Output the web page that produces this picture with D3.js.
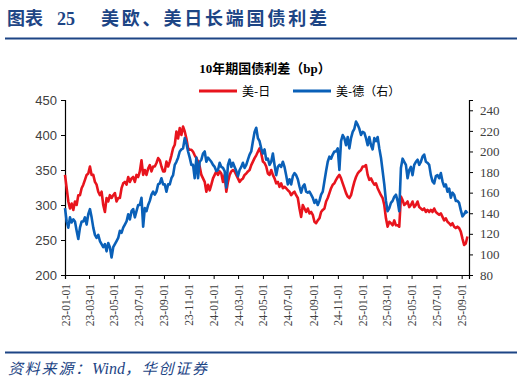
<!DOCTYPE html>
<html><head><meta charset="utf-8">
<script src="https://cdn.jsdelivr.net/npm/d3@7/dist/d3.min.js"></script>
<style>body{margin:0;background:#fff}svg{display:block}</style></head>
<body><svg id="c" width="524" height="383"></svg>
<script>
// ---- data ----
const startDate = "2023-01-01";   // first observation
const endDate = "2025-09-19";     // right end of the time axis
const stepHours = 98;             // spacing of the observations
const usJp = [
343,324,305,295,302,293,305,300,314,314,324,329,336,343,345,355,343,343,333,329,
319,314,319,300,290,310,305,314,310,314,317,305,310,310,324,331,333,329,340,333,
338,340,333,343,340,348,364,343,350,343,352,357,348,355,355,360,367,364,355,348,
348,362,355,362,371,381,386,405,395,410,400,412,405,395,381,379,379,376,371,367,
362,355,343,338,333,319,329,321,329,338,343,348,343,348,345,333,343,319,333,343,
348,350,348,343,338,333,336,338,343,345,348,350,357,362,367,371,376,381,374,362,
360,355,345,343,350,343,338,331,333,326,331,324,326,324,321,319,314,317,319,314,
310,295,283,300,295,290,295,288,290,286,276,274,278,281,290,293,295,305,310,317,
324,329,331,336,340,343,338,331,324,317,312,310,314,324,333,340,345,348,350,355,
355,357,343,336,338,333,329,331,324,319,314,310,300,281,269,276,274,271,278,271,
271,269,312,307,300,302,305,297,300,305,297,300,305,297,295,293,295,290,293,290,
293,290,295,290,288,286,288,283,278,281,276,274,271,274,269,267,269,267,262,252,
243,245,255];
const usDe = [
145,132,126,136,131,134,132,123,115,126,132,132,136,129,139,144,136,126,119,116,
119,113,110,107,110,103,111,107,97,107,110,113,116,123,121,126,129,132,139,134,
142,144,136,142,148,148,155,127,145,142,148,152,158,161,158,161,168,169,174,168,
168,161,168,168,174,177,187,190,194,200,202,203,213,208,200,194,187,187,174,194,
174,190,192,198,200,190,194,192,190,187,185,181,182,189,185,184,181,165,187,192,
185,189,185,181,176,182,185,189,184,187,192,197,200,210,219,223,213,210,203,198,
202,192,193,187,190,198,187,177,185,187,185,190,185,177,168,173,168,176,179,177,
173,166,160,166,168,161,160,161,158,155,150,153,148,152,158,161,171,181,190,195,
193,197,200,200,203,182,210,216,213,206,214,203,213,219,222,229,226,222,216,219,
218,213,206,214,206,202,213,210,214,203,194,181,168,152,142,145,150,152,156,158,
152,142,184,193,190,187,174,182,185,177,187,190,192,187,190,195,197,190,189,187,
177,171,169,176,177,174,179,171,166,168,161,164,155,160,158,152,152,150,143,137,
139,142,140];
const leftTicks = [200,250,300,350,400,450];
const rightTicks = [80,100,120,140,160,180,200,220,240];
const seriesNames = ["美-日","美-德（右）"];
const seriesColors = ["#e8141d","#0a60b8"];

// ---- layout ----
const svg = d3.select("#c");
const X0=65, X1=469, Y0=100, Y1=275;
const parse = d3.timeParse("%Y-%m-%d");
const t0 = parse(startDate), t1 = parse(endDate);
const dates = usJp.map((_,i)=>d3.timeHour.offset(t0, i*stepHours));
const x = d3.scaleTime().domain([t0, t1]).range([X0,X1]);
const yL = d3.scaleLinear().domain([200,450]).range([Y1,Y0]);
const yR = d3.scaleLinear().domain([80,250]).range([Y1,Y0]);

svg.append("rect").attr("width",524).attr("height",383).attr("fill","#fff");

// header
const dark="#1d4585";
svg.append("text").attr("x",7).attr("y",25)
  .attr("font-family","'Liberation Serif','Noto Sans CJK SC'").attr("font-weight","bold")
  .attr("font-size",18).attr("fill",dark)
  .text("图表").append("tspan").attr("x",57).text("25");
svg.append("text").attr("x",101).attr("y",25)
  .attr("font-family","'Noto Sans CJK SC'").attr("font-weight","bold")
  .attr("font-size",18).attr("letter-spacing",2.8).attr("fill",dark)
  .text("美欧、美日长端国债利差");
svg.append("line").attr("x1",5).attr("x2",517).attr("y1",38.5).attr("y2",38.5)
  .attr("stroke",dark).attr("stroke-width",2);

// chart title
svg.append("text").attr("x",265).attr("y",73).attr("text-anchor","middle")
  .attr("font-family","'Liberation Serif','Noto Sans CJK SC'").attr("font-weight","bold")
  .attr("font-size",13).attr("fill","#000").text("10年期国债利差（bp）");

// legend
const lg = [{x1:199,x2:237,tx:242},{x1:293,x2:331,tx:336}];
lg.forEach((l,i)=>{
  svg.append("line").attr("x1",l.x1).attr("x2",l.x2).attr("y1",91).attr("y2",91)
    .attr("stroke",seriesColors[i]).attr("stroke-width",3);
  svg.append("text").attr("x",l.tx).attr("y",96)
    .attr("font-family","'Noto Sans CJK SC'").attr("font-size",12).attr("fill","#000")
    .text(seriesNames[i]);
});

// axes
const axL = svg.append("g").attr("transform",`translate(${X0},0)`)
  .call(d3.axisLeft(yL).tickValues(leftTicks).tickSize(4).tickPadding(4));
const axR = svg.append("g").attr("transform",`translate(${X1},0)`)
  .call(d3.axisRight(yR).tickValues(rightTicks).tickSize(4).tickPadding(7));
const axB = svg.append("g").attr("transform",`translate(0,${Y1})`)
  .call(d3.axisBottom(x).ticks(d3.timeMonth.every(2)).tickFormat(d3.timeFormat("%y-%m-%d")).tickSize(4));
[axL,axR,axB].forEach(a=>{
  a.select(".domain").attr("stroke","#000").attr("stroke-width",1.2);
  a.selectAll(".tick line").attr("stroke","#000");
  a.selectAll("text").attr("fill","#404040");
});
axL.selectAll("text").attr("font-family","'Liberation Sans'").attr("font-size",13);
axR.selectAll("text").attr("font-family","'Liberation Serif'").attr("font-size",13);
axB.selectAll("text").attr("font-family","'Liberation Serif'").attr("font-size",11.5)
  .attr("text-anchor","end").attr("transform","rotate(-90)")
  .attr("x",-9).attr("y",0).attr("dy","0.35em");

// lines
const lineL = d3.line().x((d,i)=>x(dates[i])).y(d=>yL(d));
const lineR = d3.line().x((d,i)=>x(dates[i])).y(d=>yR(d));
svg.append("path").datum(usJp).attr("d",lineL).attr("fill","none")
  .attr("stroke",seriesColors[0]).attr("stroke-width",2.6).attr("stroke-linejoin","round");
svg.append("path").datum(usDe).attr("d",lineR).attr("fill","none")
  .attr("stroke",seriesColors[1]).attr("stroke-width",2.6).attr("stroke-linejoin","round");

// footer
svg.append("line").attr("x1",5).attr("x2",517).attr("y1",352.5).attr("y2",352.5)
  .attr("stroke",dark).attr("stroke-width",2);
const ft = svg.append("text").attr("x",8).attr("y",374)
  .attr("font-family","'Liberation Serif','Noto Sans CJK SC'").attr("font-style","italic")
  .attr("font-size",15).attr("fill",dark);
ft.append("tspan").attr("letter-spacing",1.8).text("资料来源：");
ft.append("tspan").attr("font-size",16).text("Wind");
ft.append("tspan").attr("letter-spacing",1.8).text("，华创证券");
</script></body></html>
